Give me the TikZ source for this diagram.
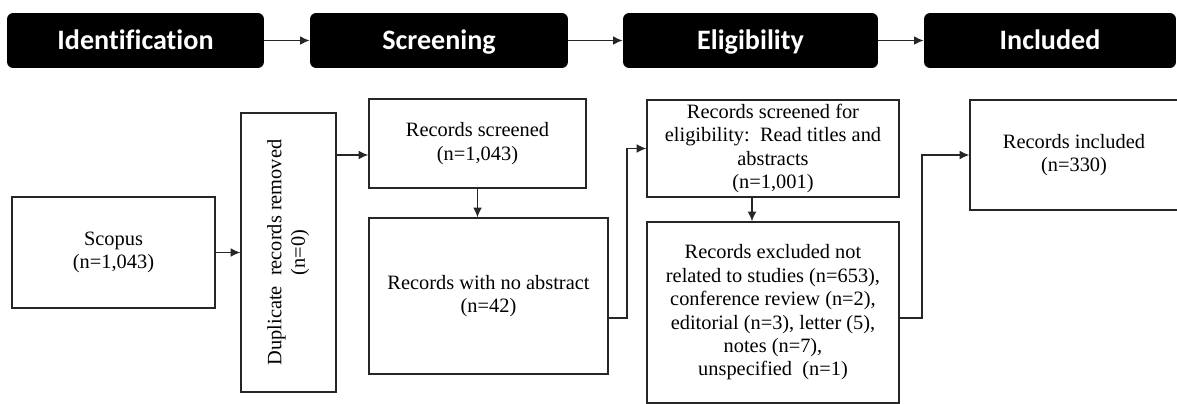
\documentclass[tikz,border=0pt]{standalone}
\usepackage{graphicx}
\usepackage{fontspec}
\setmainfont{Liberation Serif}
\setsansfont{Carlito}[Ligatures={NoCommon}]
\usetikzlibrary{arrows.meta}

\begin{document}
\begin{tikzpicture}[x=0.02cm,y=-0.02cm,
  >={Latex[length=5.5pt,width=5pt]},
  phase/.style={fill=black,rounded corners=3.5pt,minimum height=1.1cm,inner sep=0pt,
    text height=10.3pt,text depth=0pt,
    text=white,font=\sffamily\bfseries\fontsize{16}{19}\selectfont},
  rec/.style={draw=black!85,line width=0.8pt,inner sep=0pt,align=center,
    font=\fontsize{11.6}{13.3}\selectfont},
  flow/.style={->,draw=black!85,line width=0.8pt}]
\useasboundingbox (0,0) rectangle (1177,403);
% phases
\node[phase,minimum width=5.14cm] (ident) at (135.5,40.5) {Identification};
\node[phase,minimum width=5.16cm] (screen) at (439,40.5) {Screening};
\node[phase,minimum width=5.1cm] (elighd) at (750.5,40.5) {Eligibility};
\node[phase,minimum width=5.04cm] (inclhd) at (1050,40.5) {Included};
\draw[flow] (ident) -- (screen);
\draw[flow] (screen) -- (elighd);
\draw[flow] (elighd) -- (inclhd);
% records
\node[rec,minimum width=4.06cm,minimum height=2.22cm] (scopus) at (113.5,252.5) {Scopus\\(n=1,043)};
\node[rec,minimum width=1.9cm,minimum height=5.58cm] (dup) at (288.5,252.5)
  {\rotatebox{90}{\begin{tabular}{@{}c@{}}Duplicate~~records removed\\(n=0)\end{tabular}}};
\node[rec,minimum width=4.34cm,minimum height=1.78cm] (screened) at (477.5,143.5) {Records screened\\(n=1,043)};
\node[rec,minimum width=4.78cm,minimum height=3.12cm] (noabs) at (488.5,296) {Records with no abstract\\(n=42)};
\node[rec,minimum width=5.04cm,minimum height=1.94cm] (elig) at (773,148.5)
  {Records screened for\\eligibility:~~Read titles and\\abstracts\\(n=1,001)};
\node[rec,minimum width=5.04cm,minimum height=3.62cm] (excl) at (773,312.5)
  {Records excluded not\\related to studies (n=653),\\conference review (n=2),\\editorial (n=3), letter (5),\\notes (n=7),\\unspecified~~(n=1)};
\node[rec,minimum width=4.16cm,minimum height=2.2cm] (incl) at (1074,155) {Records included\\(n=330)};
% connectors
\coordinate (a1) at (0,155);
\coordinate (j1) at (627,318);
\coordinate (j2) at (752,0);
\coordinate (j3) at (922,318);
\draw[flow] (scopus) -- (dup);
\draw[flow] (dup.east |- a1) -- (screened.west |- a1);
\draw[flow] (screened.south) -- (screened.south |- noabs.north);
\draw[flow] (noabs.east |- j1) -- (j1) |- (elig.west);
\draw[flow] (elig.south -| j2) -- (excl.north -| j2);
\draw[flow] (excl.east |- j3) -- (j3) |- (incl.west);
\end{tikzpicture}
\end{document}
